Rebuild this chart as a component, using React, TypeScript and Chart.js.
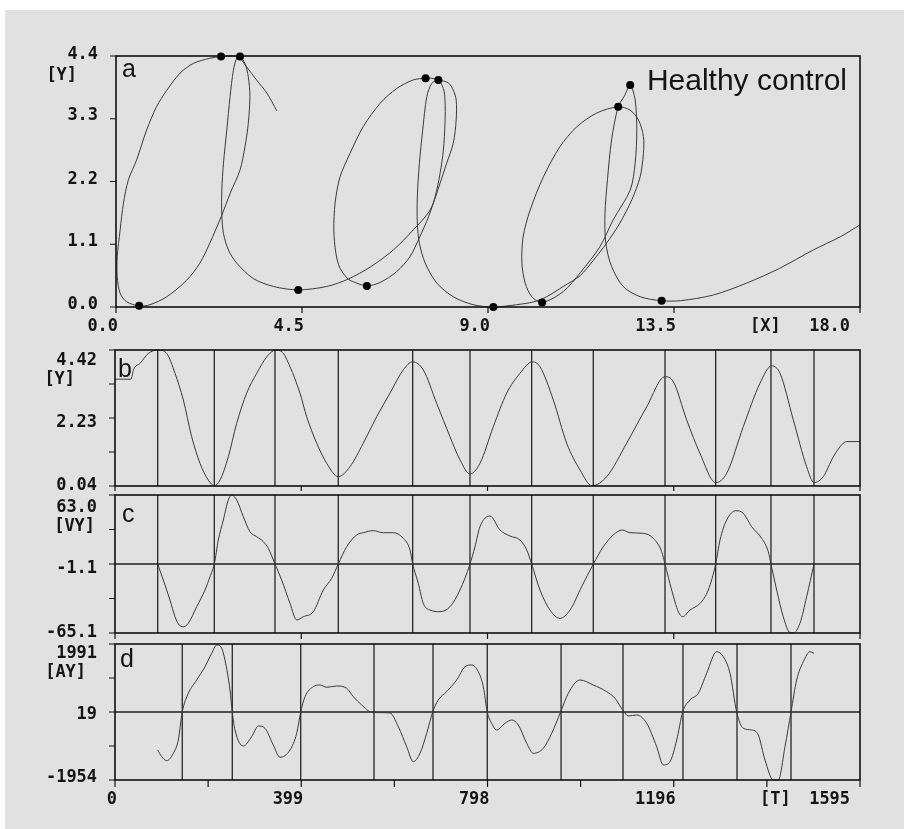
import React, { useEffect, useRef } from "react";
import { Chart, registerables } from "chart.js";

Chart.register(...registerables);

// ---------------- Panel a : pen trajectory (X vs Y) ----------------
const trajX = [
  3.89, 3.65, 3.4, 3.16, 3.04, 3.0,
  2.76, 2.54,
  2.27, 1.87, 1.55, 1.23, 0.98, 0.74, 0.5, 0.3, 0.18, 0.1, 0.03, 0.03, 0.1, 0.26, 0.56,
  0.82, 1.23, 1.71, 2.03, 2.27, 2.56, 2.76, 3.0, 3.12, 3.2, 3.24, 3.2, 3.12, 3.0,
  2.92, 2.84, 2.76, 2.68, 2.6, 2.56, 2.56, 2.6, 2.72, 2.92, 3.32, 3.81, 4.41,
  5.1, 5.62, 6.15, 6.71, 7.19, 7.6, 7.84, 8.0, 8.16, 8.23, 8.23, 8.16, 8.04, 7.8,
  7.64, 7.49,
  7.19, 6.79, 6.39, 5.98, 5.66, 5.42, 5.3, 5.27, 5.32, 5.42, 5.62, 5.82, 6.07,
  6.39, 6.79, 7.11, 7.35, 7.56, 7.72, 7.84, 7.92, 7.96, 7.96, 7.92, 7.8,
  7.64, 7.52, 7.42, 7.34, 7.29, 7.29, 7.34, 7.48, 7.76, 8.16, 8.64, 9.13,
  9.69, 10.1, 10.42, 10.82, 11.23, 11.55, 11.87, 12.19, 12.48, 12.68, 12.76, 12.76, 12.64, 12.44, 12.15,
  11.63, 11.15, 10.74, 10.34, 10.02, 9.85, 9.82, 9.9, 10.06, 10.31,
  10.82, 11.23, 11.71, 12.03, 12.44, 12.56, 12.6, 12.56, 12.44,
  12.3, 12.15,
  11.99, 11.89, 11.83, 11.85, 11.99, 12.27, 12.68, 13.2,
  13.65, 14.45, 15.26, 16.06, 16.87, 17.52, 18.0,
];
const trajY = [
  3.44, 3.75, 3.98, 4.21, 4.33, 4.39,
  4.4, 4.39,
  4.36, 4.27, 4.1, 3.8, 3.51, 3.1, 2.58, 2.23, 1.82, 1.35, 0.88, 0.53, 0.24, 0.09, 0.02,
  0.04, 0.18, 0.47, 0.77, 1.12, 1.61, 1.99, 2.4, 2.81, 3.22, 3.69, 4.04, 4.27, 4.39,
  4.36, 4.15, 3.69, 3.1, 2.52, 2.05, 1.61, 1.29, 1.0, 0.77, 0.5, 0.36, 0.3,
  0.36, 0.49, 0.7, 1.0, 1.35, 1.7, 2.17, 2.52, 2.87, 3.28, 3.63, 3.8, 3.93, 3.98,
  4.01, 4.01,
  3.98, 3.83, 3.57, 3.16, 2.69, 2.28, 1.82, 1.35, 0.94, 0.68, 0.49, 0.42, 0.37,
  0.43, 0.62, 0.88, 1.23, 1.58, 1.93, 2.34, 2.75, 3.22, 3.63, 3.83, 3.98,
  3.92, 3.69, 3.1, 2.52, 1.93, 1.47, 1.12, 0.77, 0.42, 0.18, 0.04, 0.0,
  0.04, 0.09, 0.18, 0.36, 0.55, 0.82, 1.12, 1.47, 1.88, 2.28, 2.69, 2.99, 3.28, 3.45, 3.51,
  3.4, 3.16, 2.81, 2.28, 1.7, 1.23, 0.77, 0.42, 0.18, 0.08,
  0.27, 0.6, 1.06, 1.53, 2.05, 2.52, 3.1, 3.63, 3.89,
  3.7, 3.51,
  2.93, 2.23, 1.64, 1.12, 0.71, 0.36, 0.18, 0.11,
  0.11, 0.21, 0.42, 0.68, 1.0, 1.23, 1.44,
];
const extremaX = [0.56, 2.54, 3.0, 4.41, 6.07, 7.49, 7.8, 9.13, 10.31, 12.15, 12.44, 13.2];
const extremaY = [0.02, 4.39, 4.39, 0.3, 0.37, 4.01, 3.98, 0.0, 0.08, 3.51, 3.89, 0.11];

const xTicksA = [0, 4.5, 9, 13.5, 18];
const xLabelsA = ["0.0", "4.5", "9.0", "13.5", "18.0"];
const yTicksA = [0, 1.1, 2.2, 3.3, 4.4];
const yLabelsA = ["0.0", "1.1", "2.2", "3.3", "4.4"];

// ---------------- Panel b : vertical position Y(t) ----------------
const timeB = [
  0, 34, 40, 53.5, 71.4, 91.4, 110.6, 128.5, 146.3, 164.1, 182, 199.8, 212.6, 224.8, 242.6, 260.5,
  281.9, 303.4, 324.8, 338.9, 342.5, 356.8, 374.7, 396, 410.4, 431.8, 453.2, 478, 503, 531.6, 560.2,
  588.7, 617.2, 637.3, 660, 688.7, 717.2, 738.6, 760, 781.4, 809.9, 838.6, 867, 893.4, 909.9, 938.4,
  967, 995.5, 1021, 1052.7, 1095.5, 1138.3, 1177.5, 1195.3, 1223.9, 1252.4, 1286, 1309.6, 1345.1,
  1380.9, 1405.9, 1423.7, 1452.2, 1480.8, 1496.5, 1516.4, 1537.8, 1559.2, 1566.4, 1595,
];
const posY = [
  3.48, 3.48, 3.8, 3.99, 4.31, 4.42, 4.31, 3.67, 2.81, 1.63, 0.77, 0.23, 0.05, 0.23, 0.98, 2.06,
  3.03, 3.67, 4.2, 4.4, 4.42, 4.37, 3.88, 3.03, 2.27, 1.42, 0.77, 0.34, 0.66, 1.42, 2.27,
  3.03, 3.78, 4.04, 3.78, 2.7, 1.63, 0.88, 0.43, 0.77, 1.95, 3.03, 3.67, 4.04, 3.88, 2.81,
  1.42, 0.56, 0.05, 0.34, 1.42, 2.59, 3.56, 3.4, 2.17, 1.09, 0.15, 0.45, 1.95,
  3.35, 3.91, 3.67, 2.17, 0.66, 0.15, 0.34, 0.98, 1.42, 1.47, 1.47,
];
const yTicksB = [0.04, 1.135, 2.23, 3.325, 4.42];
const yLabelsB = ["0.04", "", "2.23", "", "4.42"];

// ---------------- Panel c : vertical velocity VY(t) ----------------
const timeC = [
  91.4, 103.4, 117.7, 128.5, 135.5, 146.2, 156.9, 174.9, 192.7, 203.4, 212.6, 221.2, 231.9, 242.6,
  249.8, 260.5, 274.7, 289, 303.4, 317.5, 328.2, 342.5, 356.8, 374.7, 389, 403.2, 424.6, 446, 464,
  478, 496, 517.4, 531.6, 553, 574.4, 595.8, 617.2, 631.6, 637.3, 649.4, 660, 674.4, 695.8, 717.2,
  738.6, 760, 770.7, 781.4, 802.8, 824.2, 845.7, 867, 881.5, 892, 909.9, 931.3, 952.7, 974.1, 999.1,
  1024, 1045.4, 1066.8, 1086, 1102.6, 1131, 1152.5, 1170.4, 1177.5, 1191.8, 1206, 1215.2, 1231,
  1252.4, 1270.2, 1286, 1295.3, 1309.6, 1329.5, 1345.1, 1363, 1384.5, 1398.6, 1404.4, 1416.6,
  1430.7, 1445.1, 1452.2, 1466.5, 1480.8, 1496.5,
];
const velY = [
  -1.1, -15.9, -34.5, -50, -56.7, -59.3, -56.1, -40.7, -25.2, -12.8, -1.1, 21.2, 39.8, 58.4,
  63.0, 58.4, 42.9, 28.9, 24.3, 19.7, 13.5, -1.1, -15.9, -37.6, -53.0, -50, -45.3, -25.2, -14.3,
  -1.1, 15, 25.9, 28, 29.9, 28, 28, 22.8, 12, -1.1, -19, -37.6, -43.8, -45.3, -40.7,
  -25.2, -1.1, 15, 33.6, 43.5, 30.5, 24.9, 21.2, 12, -1.1, -25.2, -43.8, -51.5, -43.8, -22.1,
  -1.1, 15, 25.9, 30.5, 28, 27.4, 22.8, 10.4, -1.1, -25.2, -45.3, -50, -43.8,
  -37.6, -25.2, -1.1, 21.2, 39.8, 48.4, 46, 33.6, 22.8, 10.4, -1.1, -25.2,
  -50, -64.8, -65.1, -56, -31.4, -1.1,
];
const yTicksC = [-65.1, -33.075, -1.05, 30.975, 63.0];
const yLabelsC = ["-65.1", "", "-1.1", "", "63.0"];

// ---------------- Panel d : vertical acceleration AY(t) ----------------
const timeD = [
  91.4, 100, 110.7, 124.8, 135.5, 144, 157, 174.9, 192.7, 207, 217.7, 228.4, 235.5, 246.2, 251.1,
  256.9, 274.7, 292.6, 306.8, 321.1, 338.9, 353.2, 374.7, 389, 397.6, 406.8, 424.5, 438.9, 453.2,
  474.6, 496, 510.2, 528.2, 549.5, 567.4, 588.7, 606.6, 624.5, 638.6, 653, 667.3, 680.2, 692.1, 710,
  731.5, 749.3, 763.7, 777.8, 788.5, 797, 806.4, 817.2, 835, 849.3, 863.5, 881.5, 895.6, 917, 934.9,
  954.1, 970.5, 995.5, 1024, 1052.7, 1070.5, 1086.9, 1099, 1116.9, 1138.3, 1159.7, 1173.9, 1188.2,
  1202.6, 1215.4, 1231, 1248.8, 1266.7, 1288.1, 1302.3, 1316.7, 1331, 1345.1, 1363, 1377.2, 1391.6,
  1409.4, 1420, 1434.4, 1447.3, 1459.4, 1473.6, 1488, 1496.5,
];
const accY = [
  -1084, -1278, -1394, -1180, -794, 19, 561, 947, 1333, 1721, 1962, 1866, 1527, 657, 19,
  -502, -968, -698, -388, -455, -939, -1295, -1084, -600, 19, 462, 753, 802, 735,
  773, 706, 462, 222, 10, 0, -10, -408, -988, -1423, -1180, -600, 19, 367, 608,
  947, 1333, 1382, 1188, 753, 19, -309, -503, -309, -213, -358, -889, -1180, -1034, -600,
  19, 561, 947, 802, 608, 416, 77, -97, -68, -309, -988, -1516, -1423,
  -794, 19, 367, 561, 1141, 1768, 1623, 1141, 19, -454, -503, -648, -1374,
  -1954, -1954, -988, 19, 947, 1478, 1768, 1721,
];
const yTicksD = [-1954, -967.75, 18.5, 1004.75, 1991];
const yLabelsD = ["-1954", "", "19", "", "1991"];

// time axis
const timeTicks = [0, 199.375, 398.75, 598.125, 797.5, 996.875, 1196.25, 1395.625, 1595];
const timeLabelTicks = [0, 398.75, 797.5, 1196.25, 1595];
const timeLabels = ["0", "399", "798", "1196", "1595"];

// event markers
const velocityZeroT = [91.4, 212.6, 342.5, 478, 637.3, 760, 892, 1024, 1177.5, 1286, 1404.4, 1496.5];
const accelZeroT = [144, 251.1, 397.6, 554.5, 680.8, 797, 955, 1087.6, 1216, 1331.7, 1447.3];

// ------------------------------------------------------------------
const MONO = 'bold 17px "DejaVu Sans Mono", "Liberation Mono", monospace';
const SANS = '"Liberation Sans", Arial, sans-serif';
const INK = "#141414";

type Decor = {
  yTicks: number[];
  yLabels: string[];
  yLabelDy: number[];
  unit: string;
  unitRight: number;
  unitY: number;
  xTicks: number[];
  xTickLen: number;
  xLabelTicks?: number[];
  xLabels?: string[];
  xUnit?: string;
  xUnitOffset?: number;
  letter: string;
  letterX: number;
  letterY: number;
  title?: string;
};

function decorPlugin(d: Decor) {
  return {
    id: "decor",
    afterDatasetsDraw(chart: any) {
      const ctx = chart.ctx as CanvasRenderingContext2D;
      const a = chart.chartArea;
      const xs = chart.scales.x;
      const ys = chart.scales.y;
      ctx.save();
      ctx.strokeStyle = "#111";
      ctx.lineWidth = 1.6;
      ctx.strokeRect(a.left, a.top, a.right - a.left, a.bottom - a.top);
      ctx.lineWidth = 1.2;
      ctx.beginPath();
      for (const v of d.yTicks) {
        const p = ys.getPixelForValue(v);
        ctx.moveTo(a.left - 6, p);
        ctx.lineTo(a.left, p);
      }
      for (const v of d.xTicks) {
        const p = xs.getPixelForValue(v);
        ctx.moveTo(p, a.bottom);
        ctx.lineTo(p, a.bottom + d.xTickLen);
      }
      ctx.stroke();

      ctx.fillStyle = INK;
      ctx.font = MONO;
      ctx.textBaseline = "alphabetic";
      ctx.textAlign = "right";
      d.yLabels.forEach((s, i) => {
        if (!s) return;
        const p = ys.getPixelForValue(d.yTicks[i]);
        ctx.fillText(s, a.left - 18, p + d.yLabelDy[i] + 6, s.length * 10.2);
      });
      ctx.fillText(d.unit, a.left - d.unitRight, a.top + d.unitY + 6, d.unit.length * 10.2);

      if (d.xLabels && d.xLabelTicks) {
        const n = d.xLabels.length;
        d.xLabels.forEach((s, i) => {
          const p = xs.getPixelForValue(d.xLabelTicks![i]);
          ctx.fillText(s, i === n - 1 ? p - 10 : p + 2, a.bottom + 23.5, s.length * 10.2);
        });
        ctx.textAlign = "left";
        const u = d.xUnit || "";
        ctx.fillText(u, a.right - (d.xUnitOffset || 0), a.bottom + 23.5, u.length * 10.2);
      }

      ctx.textAlign = "left";
      ctx.font = "25px " + SANS;
      ctx.fillText(d.letter, a.left + d.letterX, a.top + d.letterY);
      if (d.title) {
        ctx.textAlign = "right";
        ctx.font = "30px " + SANS;
        ctx.fillText(d.title, a.right - 13, a.top + 34);
      }
      ctx.restore();
    },
  };
}

function lineSet(xs: number[], ys: number[]) {
  return {
    data: xs.map((x, i) => ({ x, y: ys[i] })),
    showLine: true,
    borderColor: "#3a3a3a",
    borderWidth: 1,
    pointRadius: 0,
    tension: 0.4,
    cubicInterpolationMode: "monotone" as const,
    clip: false as const,
  };
}

function markerSets(ts: number[], lo: number, hi: number) {
  return ts.map((t) => ({
    data: [
      { x: t, y: lo },
      { x: t, y: hi },
    ],
    showLine: true,
    borderColor: "#262626",
    borderWidth: 1.3,
    pointRadius: 0,
    tension: 0,
  }));
}

function baseOptions(
  xmin: number,
  xmax: number,
  ymin: number,
  ymax: number,
  pad: { left: number; right: number; top: number; bottom: number }
) {
  return {
    responsive: false,
    animation: false as const,
    devicePixelRatio: 1,
    events: [] as any[],
    layout: { padding: pad },
    plugins: { legend: { display: false }, tooltip: { enabled: false } },
    scales: {
      x: { type: "linear" as const, min: xmin, max: xmax, display: false },
      y: { type: "linear" as const, min: ymin, max: ymax, display: false },
    },
  };
}

export default function App() {
  const refA = useRef<HTMLCanvasElement>(null);
  const refB = useRef<HTMLCanvasElement>(null);
  const refC = useRef<HTMLCanvasElement>(null);
  const refD = useRef<HTMLCanvasElement>(null);

  useEffect(() => {
    const charts: Chart[] = [];

    charts.push(
      new Chart(refA.current!, {
        type: "scatter",
        data: {
          datasets: [
            {
              data: extremaX.map((x, i) => ({ x, y: extremaY[i] })),
              pointRadius: 4,
              pointBackgroundColor: "#000",
              pointBorderWidth: 0,
              showLine: false,
              clip: false,
            } as any,
            {
              data: trajX.map((x, i) => ({ x, y: trajY[i] })),
              showLine: true,
              borderColor: "#3a3a3a",
              borderWidth: 1,
              pointRadius: 0,
              tension: 0.3,
              clip: false,
            } as any,
          ],
        },
        options: baseOptions(0, 18, 0, 4.4, { left: 116, right: 44, top: 56, bottom: 33 }) as any,
        plugins: [
          decorPlugin({
            yTicks: yTicksA,
            yLabels: yLabelsA,
            yLabelDy: [-4, -4, -4, -5, -3],
            unit: "[Y]",
            unitRight: 39,
            unitY: 18,
            xTicks: xTicksA,
            xTickLen: 6,
            xLabelTicks: xTicksA,
            xLabels: xLabelsA,
            xUnit: "[X]",
            xUnitOffset: 110,
            letter: "a",
            letterX: 6,
            letterY: 21,
            title: "Healthy control",
          }),
        ],
      })
    );

    charts.push(
      new Chart(refB.current!, {
        type: "scatter",
        data: {
          datasets: [lineSet(timeB, posY), ...markerSets(velocityZeroT, 0.04, 4.42)] as any,
        },
        options: baseOptions(0, 1595, 0.04, 4.42, { left: 115, right: 44, top: 10, bottom: 5 }) as any,
        plugins: [
          decorPlugin({
            yTicks: yTicksB,
            yLabels: yLabelsB,
            yLabelDy: [-2, 0, 3, 0, 9],
            unit: "[Y]",
            unitRight: 40,
            unitY: 28,
            xTicks: timeLabelTicks,
            xTickLen: 5,
            letter: "b",
            letterX: 3,
            letterY: 27,
          }),
        ],
      })
    );

    charts.push(
      new Chart(refC.current!, {
        type: "scatter",
        data: {
          datasets: [
            lineSet(timeC, velY),
            {
              data: [
                { x: 0, y: -1.05 },
                { x: 1595, y: -1.05 },
              ],
              showLine: true,
              borderColor: "#1e1e1e",
              borderWidth: 1.5,
              pointRadius: 0,
            },
            ...markerSets(velocityZeroT, -65.1, 63.0),
          ] as any,
        },
        options: baseOptions(0, 1595, -65.1, 63.0, { left: 115, right: 44, top: 4, bottom: 7 }) as any,
        plugins: [
          decorPlugin({
            yTicks: yTicksC,
            yLabels: yLabelsC,
            yLabelDy: [-2, 0, 3, 0, 11],
            unit: "[VY]",
            unitRight: 20,
            unitY: 30,
            xTicks: timeLabelTicks,
            xTickLen: 6,
            letter: "c",
            letterX: 7,
            letterY: 27,
          }),
        ],
      })
    );

    charts.push(
      new Chart(refD.current!, {
        type: "scatter",
        data: {
          datasets: [
            lineSet(timeD, accY),
            {
              data: [
                { x: 0, y: 18.5 },
                { x: 1595, y: 18.5 },
              ],
              showLine: true,
              borderColor: "#1e1e1e",
              borderWidth: 1.5,
              pointRadius: 0,
            },
            ...markerSets(accelZeroT, -1954, 1991),
          ] as any,
        },
        options: baseOptions(0, 1595, -1954, 1991, { left: 115, right: 44, top: 4, bottom: 49 }) as any,
        plugins: [
          decorPlugin({
            yTicks: yTicksD,
            yLabels: yLabelsD,
            yLabelDy: [-4, 0, 1, 0, 7.5],
            unit: "[AY]",
            unitRight: 29,
            unitY: 27,
            xTicks: timeTicks,
            xTickLen: 7,
            xLabelTicks: timeLabelTicks,
            xLabels: timeLabels,
            xUnit: "[T]",
            xUnitOffset: 100,
            letter: "d",
            letterX: 5,
            letterY: 23,
          }),
        ],
      })
    );

    return () => charts.forEach((c) => c.destroy());
  }, []);

  const cv = (top: number): React.CSSProperties => ({ position: "absolute", left: 0, top });

  return (
    <div
      style={{
        position: "absolute",
        left: 0,
        top: 0,
        width: 904,
        height: 829,
        background: "#ffffff",
        overflow: "hidden",
      }}
    >
      <div
        style={{ position: "absolute", left: 5, top: 10, width: 899, height: 819, background: "#e1e1e1" }}
      />
      <canvas ref={refA} width={904} height={340} style={cv(0)} />
      <canvas ref={refB} width={904} height={151} style={cv(340)} />
      <canvas ref={refC} width={904} height={149} style={cv(491)} />
      <canvas ref={refD} width={904} height={189} style={cv(640)} />
    </div>
  );
}
